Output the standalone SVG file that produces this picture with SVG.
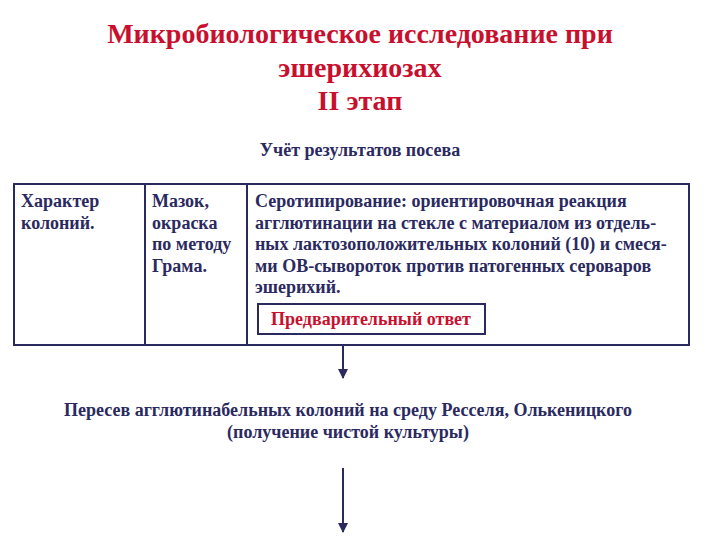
<svg xmlns="http://www.w3.org/2000/svg" width="720" height="540" viewBox="0 0 720 540">
<style>
text{font-family:"Liberation Serif","DejaVu Serif",serif;font-weight:bold}
.t{fill:#c8102e;font-size:28px;text-anchor:middle}
.n{fill:#2b2a5f;font-size:18px}
.c{text-anchor:middle}
.b{fill:#fff;stroke:#2b2a5f;stroke-width:2}
.l{stroke:#2b2a5f;stroke-width:2;fill:none}
</style>
<defs><marker id="a" viewBox="0 0 10 10" refX="9" refY="5" markerWidth="5" markerHeight="6" orient="auto"><path d="M0,0L10,5L0,10z" fill="#2b2a5f"/></marker></defs>
<rect width="720" height="540" fill="#fff"/>
<g id="title"><text class="t" x="360" y="43">Микробиологическое исследование при</text><text class="t" x="360" y="77">эшерихиозах</text><text class="t" x="360" y="110">II этап</text></g>
<g id="sub"><text class="n c" x="360" y="156">Учёт результатов посева</text></g>
<g id="n1"><rect class="b" x="14" y="184" width="131" height="161"/><text class="n" x="21" y="207">Характер</text><text class="n" x="21" y="229">колоний.</text></g>
<g id="n2"><rect class="b" x="145" y="184" width="102" height="161"/><text class="n" x="152" y="207">Мазок,</text><text class="n" x="152" y="229">окраска</text><text class="n" x="152" y="250">по методу</text><text class="n" x="152" y="272">Грама.</text></g>
<g id="n3"><rect class="b" x="247" y="184" width="442" height="161"/><text class="n" x="255" y="207">Серотипирование: ориентировочная реакция</text><text class="n" x="255" y="229">агглютинации на стекле с материалом из отдель-</text><text class="n" x="255" y="250">ных лактозоположительных колоний (10) и смеся-</text><text class="n" x="255" y="272">ми ОВ-сывороток против патогенных сероваров</text><text class="n" x="255" y="293">эшерихий.</text></g>
<g id="n4"><rect class="b" x="258" y="304" width="227" height="30"/><text class="n c" x="371" y="325" style="fill:#c8102e">Предварительный ответ</text></g>
<g id="n5"><text class="n c" x="348" y="416">Пересев агглютинабельных колоний на среду Ресселя, Олькеницкого</text><text class="n c" x="348" y="438">(получение чистой культуры)</text></g>
<g id="connectors"><line class="l" x1="343" y1="345" x2="343" y2="378" marker-end="url(#a)"/><line class="l" x1="343" y1="468" x2="343" y2="532" marker-end="url(#a)"/></g>
</svg>
